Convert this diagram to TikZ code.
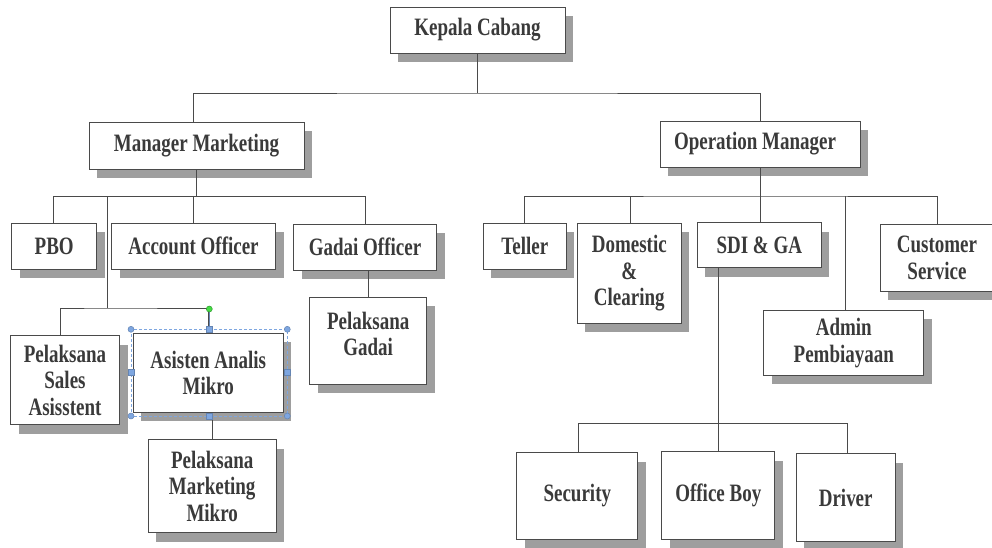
\documentclass[tikz,border=0pt]{standalone}
\usepackage{fontspec}
\setmainfont{Liberation Serif}[FakeStretch=0.76]
\usetikzlibrary{shadows}
\definecolor{txtgray}{HTML}{3A3A3A}
\definecolor{boxgray}{HTML}{4A4A4A}
\definecolor{selblue}{HTML}{7EA6E0}
\definecolor{rotgreen}{HTML}{44DD44}
\begin{document}
\begin{tikzpicture}[x=1pt, y=-1pt,
  box/.style 2 args={draw=boxgray, fill=white, line width=1pt, text=txtgray,
    font=\fontsize{25}{26.5}\selectfont\bfseries, align=center, inner sep=1pt,
    minimum width=#1pt, minimum height=#2pt,
    drop shadow={shadow xshift=8pt, shadow yshift=-9pt, fill=black!38, opacity=1}},
  link/.style={draw=boxgray, line width=1pt}]
 \useasboundingbox (0,0) rectangle (992,547);
 \node [box={175}{46}] (kc) at (477.5,30) {Kepala Cabang};
 \node [box={215}{47}] (mm) at (196.5,145.5) {Manager Marketing};
 \node [box={200}{46}] (om) at (760,144) {Operation Manager\hspace{10pt}};
 \node [box={85}{46}] (pbo) at (54.2,246) {PBO};
 \node [box={164}{46}] (ao) at (193.5,246) {Account Officer};
 \node [box={143}{46}] (go) at (365,247) {Gadai Officer};
 \node [box={117}{87}, text depth=14pt] (pg) at (368.2,340.7) {Pelaksana\\Gadai};
 \node [box={109}{89}] (psa) at (65,380.3) {Pelaksana\\Sales\\Asisstent};
 \node [box={150}{79}] (aam) at (208.3,372.7) {Asisten Analis\\Mikro};
 \node [box={128}{93}] (pmm) at (212.2,486.3) {Pelaksana\\Marketing\\Mikro};
 \node [box={83}{46}] (tel) at (524.8,246.2) {Teller};
 \node [box={104}{100}] (dc) at (629.3,273.2) {Domestic\\\&\\Clearing};
 \node [box={124}{45}] (sdi) at (759.3,245.3) {SDI \& GA};
 \node [box={114}{67}] (cs) at (937,257.7) {Customer\\Service};
 \node [box={160}{65}] (ap) at (843.8,342.8) {Admin\\Pembiayaan};
 \node [box={121}{87}] (sec) at (577.3,496) {Security};
 \node [box={113}{88}] (ob) at (718.3,495.5) {Office Boy};
 \node [box={99}{88}] (drv) at (845.7,497.7) {Driver};
 \coordinate (top) at (0,93);
 \coordinate (mmbus) at (0,196.5);
 \coordinate (mmsub) at (107.3,196.5);
 \coordinate (mmsub2) at (107.3,308);
 \coordinate (ombus) at (0,196);
 \coordinate (ap up) at (845.7,196);
 \coordinate (sdibus) at (0,423.3);
 \draw [link] (kc.south) -- (kc.south |- top);
 \draw [link] ([xshift=-3.5pt]mm.north) |- (kc.south |- top) -| (om.north);
 \draw [link] (mm.north |- mm.south) -- (mm.north |- mmbus);
 \draw [link] ([xshift=-1pt]pbo.north) |- (mm.north |- mmbus) -| (go.north);
 \draw [link] (ao.north) -- (ao.north |- mmbus);
 \draw [link] (mmsub) -- (mmsub2);
 \draw [link] ([xshift=-5pt]psa.north) |- (mmsub2) -| (aam.north);
 \draw [link] (pg.north |- go.south) -- (pg.north);
 \draw [link] (pmm.north |- aam.south) -- (pmm.north);
 \draw [link] (om.south) -- (om.south |- ombus);
 \draw [link] (tel.north) |- (om.south |- ombus) -| (cs.north);
 \draw [link] ([xshift=0.7pt]dc.north) -- ([xshift=0.7pt]dc.north |- ombus);
 \draw [link] ([xshift=0.7pt]sdi.north) -- ([xshift=0.7pt]sdi.north |- ombus);
 \draw [link] (ap up) -- (ap up |- ap.north);
 \draw [link] (ob.north |- sdi.south) -- (ob.north);
 \draw [link] ([xshift=1.4pt]sec.north) |- (ob.north |- sdibus) -| ([xshift=1.6pt]drv.north);
 \draw [selblue, densely dashed, line width=0.8pt] (131,329.3) rectangle (287.3,416);
 \draw [selblue!80!black, line width=0.8pt] (209.3,309) -- (209.3,329.3);
 \foreach \hx/\hy in {131/329.3, 287.3/329.3, 131/416, 287.3/416}
  \filldraw [fill=selblue, draw=selblue!80!black, line width=0.5pt] (\hx,\hy) circle (3pt);
 \foreach \hx/\hy in {209.3/329.3, 131/372.7, 287.3/372.7, 209.3/416}
  \filldraw [fill=selblue, draw=selblue!80!black, line width=0.5pt] (\hx-3,\hy-3) rectangle (\hx+3,\hy+3);
 \filldraw [fill=rotgreen, draw=rotgreen!70!black, line width=0.5pt] (209.3,309) circle (3pt);
\end{tikzpicture}
\end{document}
